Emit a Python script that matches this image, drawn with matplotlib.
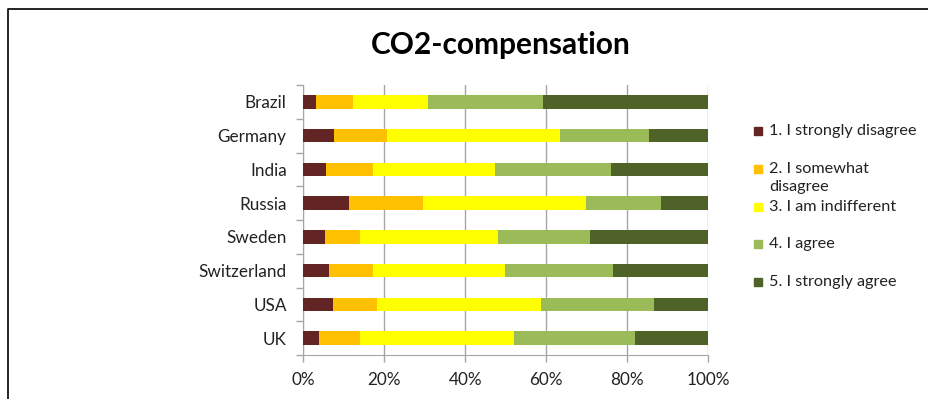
import numpy as np
import matplotlib
matplotlib.use("Agg")
import matplotlib.pyplot as plt
from matplotlib.patches import Rectangle
from matplotlib.lines import Line2D
from matplotlib.ticker import FixedLocator, PercentFormatter

plt.rcParams["font.family"] = ["Lato", "DejaVu Sans"]

countries = ["Brazil", "Germany", "India", "Russia", "Sweden", "Switzerland", "USA", "UK"]
strongly_disagree = [3.1, 7.7, 5.6, 11.2, 5.3, 6.3, 7.4, 3.9]
somewhat_disagree = [9.2, 13.0, 11.5, 18.3, 8.7, 10.8, 10.9, 10.1]
indifferent = [18.6, 42.7, 30.3, 40.3, 34.1, 32.6, 40.3, 38.1]
agree = [28.3, 21.9, 28.5, 18.5, 22.8, 26.8, 28.0, 29.8]
strongly_agree = [40.8, 14.7, 24.1, 11.7, 29.1, 23.5, 13.4, 18.1]

series = [strongly_disagree, somewhat_disagree, indifferent, agree, strongly_agree]
labels = ["1. I strongly disagree", "2. I somewhat\ndisagree", "3. I am indifferent",
          "4. I agree", "5. I strongly agree"]
colors = ["#632523", "#FFC000", "#FFFF00", "#9BBB59", "#4F6228"]

W, H = 929, 399
fig = plt.figure(figsize=(W / 100, H / 100), dpi=100)
ax = fig.add_axes([303.3 / W, 44 / H, 405 / W, 270 / H])

y = np.arange(len(countries))
left = np.zeros(len(countries))
for vals, col in zip(series, colors):
    vals = np.array(vals)
    ax.barh(y, vals, left=left, height=0.4, color=col, zorder=3)
    left += vals

ax.set_xlim(0, 100)
ax.set_ylim(len(countries) - 0.5, -0.5)
ax.xaxis.set_major_locator(FixedLocator([0, 20, 40, 60, 80, 100]))
ax.xaxis.set_major_formatter(PercentFormatter(decimals=0))
ax.grid(axis="x", color="#a6a6a6", lw=1, zorder=0)
ax.set_axisbelow(True)

ax.set_yticks(y)
ax.set_yticklabels(countries)
ax.set_yticks(np.arange(-0.5, len(countries)), minor=True)
ax.tick_params(axis="y", which="major", length=0, pad=12, labelsize=12.3, labelcolor="#222222")
ax.tick_params(axis="y", which="minor", length=5, color="#a6a6a6", width=1)
ax.tick_params(axis="x", length=5, color="#a6a6a6", width=1, pad=7, labelsize=12.3,
               labelcolor="#222222")

for s in ("top", "right"):
    ax.spines[s].set_visible(False)
for s in ("left", "bottom"):
    ax.spines[s].set_color("#a6a6a6")

fig.text(501 / W, 1 - 45 / H, "CO2-compensation", ha="center", va="center",
         fontsize=21.5, fontweight="bold")

# legend drawn by hand to keep the uneven spacing
entry_y = [131, 169, 207, 244, 282]
for yy, lab, col in zip(entry_y, labels, colors):
    fig.add_artist(Rectangle((754 / W, 1 - (yy + 4) / H), 8 / W, 8 / H,
                             transform=fig.transFigure, color=col))
    if "\n" in lab:
        fig.text(769 / W, 1 - (yy - 7) / H, lab, ha="left", va="top",
                 fontsize=11.7, color="#222222", linespacing=1.4)
    else:
        fig.text(769 / W, 1 - yy / H, lab, ha="left", va="center",
                 fontsize=11.7, color="#222222")

# chart frame (left and top edges)
fig.add_artist(Line2D([8 / W, 8 / W, 1], [0, 1 - 9 / H, 1 - 9 / H],
                      transform=fig.transFigure, color="black", lw=1.2))

fig.savefig("out.png", dpi=100)
